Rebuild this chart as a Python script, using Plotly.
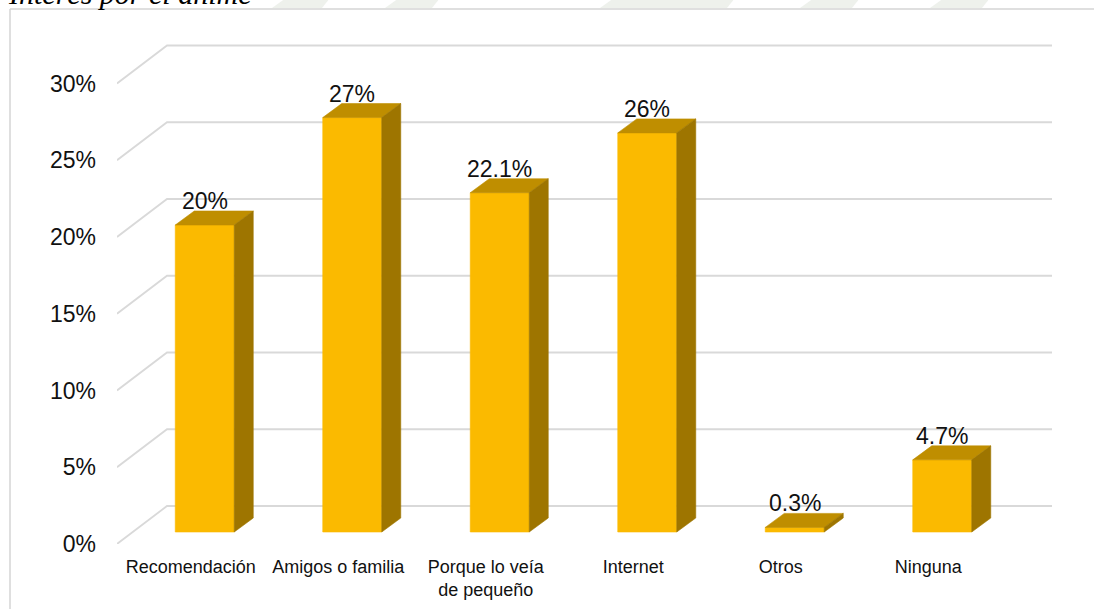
import plotly.graph_objects as go

# ---- data ----
categorias = ["Recomendación", "Amigos o familia", "Porque lo veía<br>de pequeño",
              "Internet", "Otros", "Ninguna"]
porcentajes = [20, 27, 22.1, 26, 0.3, 4.7]
etiquetas = ["20%", "27%", "22.1%", "26%", "0.3%", "4.7%"]
ticks_y = [0, 5, 10, 15, 20, 25, 30]
ticks_y_texto = ["0%", "5%", "10%", "15%", "20%", "25%", "30%"]
titulo = "Interés por el anime"

# ---- page / plot geometry (pixels) ----
W, H = 1094, 609
ML, MR, MT, MB = 117, 42, 44, 65
PLOT_W = W - ML - MR
PLOT_H = H - MT - MB
PX_CAT = 147.5      # pixels per category slot
PX_PCT = 15.35      # pixels per percentage point

x_rango = [-0.5, -0.5 + PLOT_W / PX_CAT]
y_rango = [0, PLOT_H / PX_PCT]


def profundidad(dx_px, dy_px):
    """Oblique depth offset expressed in axis units."""
    return dx_px / PX_CAT, dy_px / PX_PCT


FRENTE = profundidad(14, 12)     # front face of the bars
FONDO = profundidad(33, 26)      # back face of the bars
PARED = profundidad(50, 38)      # back wall
MEDIO = 29.5 / PX_CAT            # half bar width

C_FRENTE = "#FBBA00"
C_TECHO = "#BF8E00"
C_LADO = "#9E7500"
C_GRID = "#D9D9D9"
FUENTE = "Arial, 'Liberation Sans', sans-serif"


def px_a_papel_x(px):
    return (px - ML) / PLOT_W


def px_a_papel_y(py):
    return 1 - (py - MT) / PLOT_H


fig = go.Figure()

# ---- gridlines: floor-edge diagonal + line across the back wall ----
gx, gy = [], []
for v in ticks_y:
    gx += [x_rango[0], x_rango[0] + PARED[0], len(categorias) - 0.5 + PARED[0], None]
    gy += [v, v + PARED[1], v + PARED[1], None]
fig.add_trace(go.Scatter(x=gx, y=gy, mode="lines", line=dict(color=C_GRID, width=1.8),
                         hoverinfo="skip", showlegend=False))

# ---- 3D bars: front, top and side faces ----
dX = FONDO[0] - FRENTE[0]
dY = FONDO[1] - FRENTE[1]
fx, fy, tx, ty, sx, sy = [], [], [], [], [], []
for i, v in enumerate(porcentajes):
    cx = i + FRENTE[0]
    y0 = FRENTE[1]
    y1 = v + FRENTE[1]
    l, r = cx - MEDIO, cx + MEDIO
    fx += [l, r, r, l, l, None]
    fy += [y0, y0, y1, y1, y0, None]
    tx += [l, r, r + dX, l + dX, l, None]
    ty += [y1, y1, y1 + dY, y1 + dY, y1, None]
    sx += [r, r + dX, r + dX, r, r, None]
    sy += [y0, y0 + dY, y1 + dY, y1, y0, None]

for xs, ys, c in [(fx, fy, C_FRENTE), (tx, ty, C_TECHO), (sx, sy, C_LADO)]:
    fig.add_trace(go.Scatter(x=xs, y=ys, mode="lines", fill="toself", fillcolor=c,
                             line=dict(color=c, width=0.6), hoverinfo="skip",
                             showlegend=False))

# ---- value labels above the bars ----
for i, (v, t) in enumerate(zip(porcentajes, etiquetas)):
    fig.add_annotation(x=i + FRENTE[0], y=v + FONDO[1], text=t, showarrow=False,
                       xanchor="center", yanchor="bottom", yshift=-5,
                       font=dict(family=FUENTE, size=23, color="#111111"))

# ---- heading partially cut at the top of the page ----
fig.add_annotation(xref="paper", yref="paper", x=px_a_papel_x(6), y=px_a_papel_y(12),
                   xanchor="left", yanchor="bottom", showarrow=False, text=titulo,
                   font=dict(family="'Times New Roman', 'Liberation Serif', serif",
                             size=30, color="#000000", style="italic"))

# ---- faint background emblem above the chart frame ----
manchas = [(272, 330), (385, 440), (600, 735), (800, 860), (930, 990)]
for a, b in manchas:
    fig.add_shape(type="path", xref="paper", yref="paper", layer="below",
                  path=(f"M {px_a_papel_x(a)},{px_a_papel_y(8)} "
                        f"L {px_a_papel_x(a + 14)},{px_a_papel_y(-2)} "
                        f"L {px_a_papel_x(b)},{px_a_papel_y(-2)} "
                        f"L {px_a_papel_x(b - 8)},{px_a_papel_y(8)} Z"),
                  fillcolor="rgba(160,175,150,0.18)", line=dict(width=0))

# ---- chart frame ----
fig.add_shape(type="line", xref="paper", yref="paper",
              x0=px_a_papel_x(10), x1=px_a_papel_x(W + 5),
              y0=px_a_papel_y(9), y1=px_a_papel_y(9),
              line=dict(color="#D4D4D4", width=1.5))
fig.add_shape(type="line", xref="paper", yref="paper",
              x0=px_a_papel_x(10), x1=px_a_papel_x(10),
              y0=px_a_papel_y(9), y1=px_a_papel_y(H + 5),
              line=dict(color="#D4D4D4", width=1.5))

fig.update_layout(
    width=W, height=H,
    margin=dict(l=ML, r=MR, t=MT, b=MB, pad=0, autoexpand=False),
    paper_bgcolor="white", plot_bgcolor="rgba(0,0,0,0)",
    showlegend=False,
    xaxis=dict(range=x_rango, tickvals=list(range(len(categorias))), ticktext=categorias,
               showgrid=False, zeroline=False, showline=False, ticks="",
               tickfont=dict(family=FUENTE, size=18, color="#111111"),
               ticklabelstandoff=10, automargin=False, fixedrange=True),
    yaxis=dict(range=y_rango, tickvals=ticks_y, ticktext=ticks_y_texto,
               showgrid=False, zeroline=False, showline=False, ticks="",
               tickfont=dict(family=FUENTE, size=23, color="#111111"),
               ticklabelstandoff=20, automargin=False, fixedrange=True),
)

fig.write_html("out.html")
